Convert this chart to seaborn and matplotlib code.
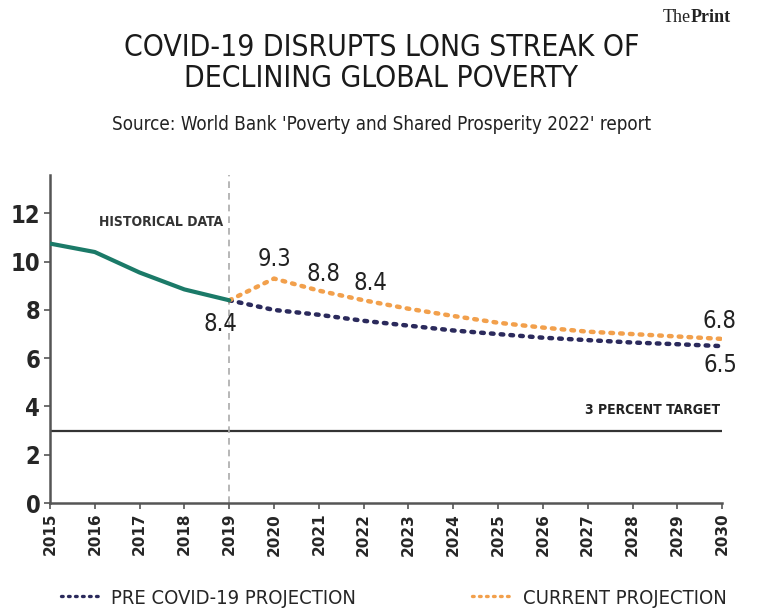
import numpy as np
import pandas as pd
import matplotlib.pyplot as plt
import seaborn as sns

# data (% of world population in extreme poverty)
hist_years = [2015, 2016, 2017, 2018, 2019]
hist_values = [10.75, 10.4, 9.55, 8.85, 8.4]

proj_years = list(range(2019, 2031))
pre_covid = [8.4, 8.0, 7.8, 7.55, 7.35, 7.15, 7.0, 6.85, 6.75, 6.65, 6.58, 6.5]
current = [8.4, 9.3, 8.8, 8.4, 8.05, 7.75, 7.47, 7.27, 7.1, 7.0, 6.9, 6.8]

target = 3
x_ticks = list(range(2015, 2031))
y_ticks = [0, 2, 4, 6, 8, 10, 12]

sns.set_theme(style="white")
plt.rcParams['font.family'] = ['DejaVu Sans']

TEAL = "#1b7a68"
NAVY = "#2b2a5c"
ORANGE = "#f2a04c"
COND = dict(fontstretch="condensed")

hist_df = pd.DataFrame({"year": hist_years, "value": hist_values})
proj_df = pd.DataFrame({
    "year": proj_years * 2,
    "value": pre_covid + current,
    "series": ["PRE COVID-19 PROJECTION"] * len(proj_years) + ["CURRENT PROJECTION"] * len(proj_years),
})

fig = plt.figure(figsize=(7.63, 6.09), dpi=100)
ax = fig.add_axes([0.0655, 0.174, 0.881, 0.539])

ax.axhline(target, color="#333333", lw=1.6, zorder=1)
ax.axvline(2019, color="#aaaaaa", lw=1.2, ls=(0, (4, 3)), zorder=1)

sns.lineplot(data=hist_df, x="year", y="value", color=TEAL, lw=3, ax=ax, zorder=3)
sns.lineplot(data=proj_df, x="year", y="value", hue="series",
             palette={"PRE COVID-19 PROJECTION": NAVY, "CURRENT PROJECTION": ORANGE},
             ax=ax, lw=3.2, zorder=2, legend=False)
for line in ax.lines[-2:]:
    line.set_linestyle((0, (0.6, 1.6)))
    line.set_dash_capstyle("round")

ax.set_xlim(2015, 2030)
ax.set_ylim(0, 13.6)
ax.set_xticks(x_ticks)
ax.set_xticklabels([str(y) for y in x_ticks], rotation=90, fontsize=11, fontweight="bold")
ax.set_yticks(y_ticks)
ax.set_yticklabels([str(y) for y in y_ticks], fontsize=17, fontweight="semibold", **COND)
ax.set_xlabel("")
ax.set_ylabel("")
ax.tick_params(axis="both", direction="out", length=4, width=1.2, color="#555555",
               bottom=True, left=True, pad=3)
for s in ["top", "right"]:
    ax.spines[s].set_visible(False)
for s in ["left", "bottom"]:
    ax.spines[s].set_color("#555555")
    ax.spines[s].set_linewidth(1.8)

# annotations
lab = dict(fontsize=17, color="#222222", **COND)
ax.text(2018.8, 7.9, "8.4", ha="center", va="top", **lab)
ax.text(2020.0, 9.6, "9.3", ha="center", va="bottom", **lab)
ax.text(2021.1, 9.0, "8.8", ha="center", va="bottom", **lab)
ax.text(2022.15, 8.6, "8.4", ha="center", va="bottom", **lab)
ax.text(2029.95, 7.05, "6.8", ha="center", va="bottom", **lab)
ax.text(2029.95, 6.2, "6.5", ha="center", va="top", **lab)
ax.text(2017.48, 11.65, "HISTORICAL DATA", ha="center", va="center",
        fontsize=10, fontweight="bold", color="#333333", **COND)
ax.text(2029.95, 3.55, "3 PERCENT TARGET", ha="right", va="bottom",
        fontsize=10, fontweight="bold", color="#222222", **COND)

# titles
fig.text(0.50, 0.897, "COVID-19 DISRUPTS LONG STREAK OF\nDECLINING GLOBAL POVERTY",
         ha="center", va="center", fontsize=21.5, color="#1a1a1a", linespacing=1.1,
         fontweight="medium", **COND)
fig.text(0.50, 0.795, "Source: World Bank 'Poverty and Shared Prosperity 2022' report",
         ha="center", va="center", fontsize=13.5, color="#222222", **COND)
fig.text(0.905, 0.972, "The", ha="right", va="center", fontsize=13,
         family="Liberation Serif", color="#222222")
fig.text(0.905, 0.972, "Print", ha="left", va="center", fontsize=13, fontweight="bold",
         family="Liberation Serif", color="#222222")

# legend
handles = [
    plt.Line2D([], [], color=NAVY, lw=2.4, ls=(0, (0.5, 1.6)), dash_capstyle="round"),
    plt.Line2D([], [], color=ORANGE, lw=2.4, ls=(0, (0.5, 1.6)), dash_capstyle="round"),
]
fig.legend(handles, ["PRE COVID-19 PROJECTION", "CURRENT PROJECTION"],
           loc="center", bbox_to_anchor=(0.516, 0.018), ncol=2, frameon=False,
           handlelength=2.0, handletextpad=0.5, columnspacing=5.75,
           prop=dict(size=14.5, stretch="condensed"))

fig.savefig("out.png", dpi=100)
